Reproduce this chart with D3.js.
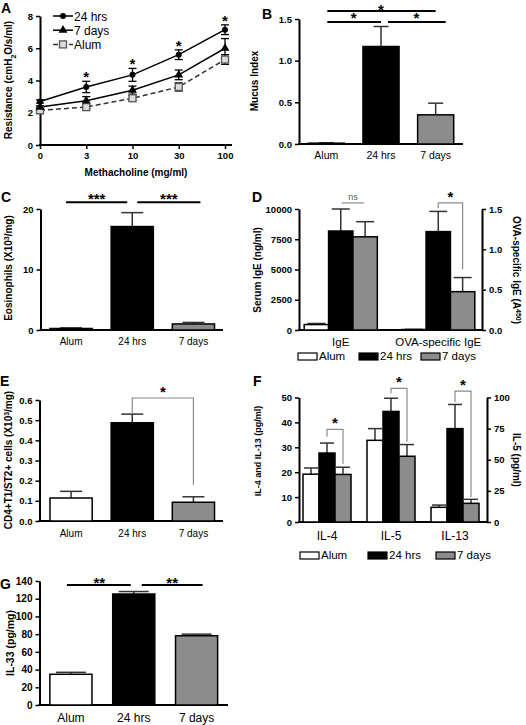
<!DOCTYPE html>
<html><head><meta charset="utf-8">
<script src="https://cdn.jsdelivr.net/npm/d3@7"></script>
<style>
body{margin:0;background:#fff;}
svg{font-family:Arial,"Liberation Sans",sans-serif;}
</style></head><body>
<svg id="c" width="526" height="725"></svg>
<script>
// ---------- DATA ----------
const groups = ["Alum", "24 hrs", "7 days"];
const groupFill = ["#ffffff", "#000000", "#8c8c8c"];

// Panel A
const doses = ["0", "3", "10", "30", "100"];
const res24h = [2.7, 3.6, 4.35, 5.6, 7.15];
const res24hErr = [0.1, 0.35, 0.4, 0.3, 0.3];
const res7d = [2.35, 2.75, 3.4, 4.35, 6.0];
const res7dErr = [0.08, 0.25, 0.25, 0.3, 0.6];
const resAlum = [2.15, 2.35, 2.9, 3.6, 5.3];
const resAlumErr = [0.08, 0.1, 0.15, 0.25, 0.3];
const resStars = ["", "*", "*", "*", "*"];
const resTicks = [0, 2, 4, 6, 8];

// Panel B
const mucus = [0.01, 1.17, 0.35];
const mucusErr = [0.004, 0.24, 0.14];
const mucusTicks = [0, 0.5, 1.0, 1.5];

// Panel C
const eos = [0.25, 17.1, 1.0];
const eosErr = [0.1, 2.3, 0.25];
const eosTicks = [0, 10, 20];

// Panel D
const igeCats = ["IgE", "OVA-specific IgE"];
const totalIgE = [450, 8180, 7700];
const totalIgEErr = [90, 1820, 1250];
const ovaIgE = [0.006, 1.22, 0.475];
const ovaIgEErr = [0.002, 0.25, 0.175];
const igeTicks = [0, 2500, 5000, 7500, 10000];
const ovaTicks = [0, 0.5, 1.0, 1.5];

// Panel E
const cd4 = [0.114, 0.487, 0.093];
const cd4Err = [0.033, 0.043, 0.027];
const cd4Ticks = [0, 0.1, 0.2, 0.3, 0.4, 0.5, 0.6];

// Panel F
const cytCats = ["IL-4", "IL-5", "IL-13"];
const il4 = [19.2, 27.7, 19.1];
const il4Err = [2.5, 4.0, 2.9];
const il5 = [65.6, 88.8, 52.8];
const il5Err = [9.4, 10.6, 9.4];
const il13 = [5.9, 37.5, 7.5];
const il13Err = [0.9, 9.7, 1.6];
const cytLeftTicks = [0, 10, 20, 30, 40, 50];
const cytRightTicks = [0, 25, 50, 75, 100];

// Panel G
const il33 = [34.7, 125.3, 78.2];
const il33Err = [2.2, 2.8, 1.8];
const il33Ticks = [0, 20, 40, 60, 80, 100, 120, 140];

// ---------- HELPERS ----------
const svg = d3.select("#c");
const FONT = "Arial, 'Liberation Sans', sans-serif";

function styleAxis(ax, size) {
  ax.attr("font-family", FONT).attr("font-size", size || 9.5).attr("font-weight", "bold");
  ax.select(".domain").attr("stroke-width", 2);
  ax.selectAll(".tick line").attr("stroke-width", 1.5);
  return ax;
}
function yLeft(g, y, x, ticks, fmt, size) {
  const ax = g.append("g").attr("transform", `translate(${x},0)`)
    .call(d3.axisLeft(y).tickValues(ticks).tickFormat(fmt).tickSize(4).tickSizeOuter(0));
  return styleAxis(ax, size);
}
function yRight(g, y, x, ticks, fmt, size) {
  const ax = g.append("g").attr("transform", `translate(${x},0)`)
    .call(d3.axisRight(y).tickValues(ticks).tickFormat(fmt).tickSize(4).tickSizeOuter(0));
  return styleAxis(ax, size);
}
function hline(g, x0, x1, y, w, col) {
  g.append("line").attr("x1", x0).attr("x2", x1).attr("y1", y).attr("y2", y)
    .attr("stroke", col || "#000").attr("stroke-width", w || 2);
}
function label(g, txt, x, y, size, opts) {
  opts = opts || {};
  return g.append("text").attr("x", x).attr("y", y).text(txt)
    .attr("font-family", FONT).attr("font-size", size)
    .attr("font-weight", opts.bold ? "bold" : "normal")
    .attr("text-anchor", opts.anchor || "middle").attr("fill", opts.fill || "#000");
}
function panelLetter(txt, x, y) { label(svg, txt, x, y, 14, {bold: true, anchor: "start"}); }
function rotTitle(g, parts, x, y, rot, size) {
  const t = g.append("text").attr("transform", `translate(${x},${y}) rotate(${rot})`)
    .attr("text-anchor", "middle").attr("font-family", FONT).attr("font-size", size)
    .attr("font-weight", "bold");
  parts.forEach(p => {
    const s = t.append("tspan").text(p.t);
    if (p.sup) s.attr("baseline-shift", "super").attr("font-size", size * 0.7);
    if (p.sub) s.attr("baseline-shift", "sub").attr("font-size", size * 0.7);
  });
  return t;
}
function drawBars(g, xs, widthFn, y, vals, errs, fills, capW) {
  vals.forEach((v, i) => {
    const cx = xs(i), w = widthFn;
    const top = y(v + errs[i]);
    g.append("line").attr("x1", cx).attr("x2", cx).attr("y1", y(v)).attr("y2", top)
      .attr("stroke", "#333").attr("stroke-width", 1.5);
    g.append("line").attr("x1", cx - capW / 2).attr("x2", cx + capW / 2).attr("y1", top).attr("y2", top)
      .attr("stroke", "#333").attr("stroke-width", 1.5);
    g.append("rect").attr("x", cx - w / 2).attr("width", w)
      .attr("y", y(v)).attr("height", Math.max(0.5, y(0) - y(v)))
      .attr("fill", fills[i]).attr("stroke", "#000").attr("stroke-width", 1.5);
  });
}
function star(g, txt, x, yBase) {
  label(g, txt, x, yBase, 15, {bold: true});
}
function bracket(g, xl, yl, xr, yr, top, txt) {
  g.append("path").attr("d", `M${xl},${yl}V${top}H${xr}V${yr}`)
    .attr("fill", "none").attr("stroke", "#8a8a8a").attr("stroke-width", 1.2);
  star(g, txt, (xl + xr) / 2, top - 1);
}
function legend(g, x0s, y, size) {
  groups.forEach((gname, i) => {
    g.append("rect").attr("x", x0s[i]).attr("y", y - 7).attr("width", 19).attr("height", 7)
      .attr("fill", groupFill[i]).attr("stroke", "#000").attr("stroke-width", 1.2);
    label(g, gname, x0s[i] + 21, y, size, {anchor: "start"});
  });
}

// ---------- PANEL A ----------
{
  const g = svg.append("g");
  const x = d3.scalePoint().domain(doses).range([40, 225]);
  const y = d3.scaleLinear().domain([0, 8]).range([145, 16]);
  yLeft(g, y, 40, resTicks, d3.format("d"));
  const ax = g.append("g").attr("transform", "translate(0,145)")
    .call(d3.axisBottom(x).tickSize(4).tickSizeOuter(0));
  styleAxis(ax);
  ax.select(".domain").remove();
  hline(g, 39, 232, 145, 2);

  const series = [
    {v: resAlum, e: resAlumErr, dash: "5,3", col: "#333", sym: "sq"},
    {v: res7d, e: res7dErr, dash: null, col: "#000", sym: "tri"},
    {v: res24h, e: res24hErr, dash: null, col: "#000", sym: "circ"}
  ];
  const line = d3.line().x((d, i) => x(doses[i])).y(d => y(d));
  series.forEach(s => {
    g.append("path").attr("d", line(s.v)).attr("fill", "none")
      .attr("stroke", s.col).attr("stroke-width", 1.5).attr("stroke-dasharray", s.dash);
    s.v.forEach((v, i) => {
      const cx = x(doses[i]);
      const y0 = y(v - s.e[i]), y1 = y(v + s.e[i]);
      g.append("line").attr("x1", cx).attr("x2", cx).attr("y1", y0).attr("y2", y1).attr("stroke", "#000").attr("stroke-width", 1.3);
      [y0, y1].forEach(yy => g.append("line").attr("x1", cx - 4).attr("x2", cx + 4).attr("y1", yy).attr("y2", yy).attr("stroke", "#000").attr("stroke-width", 1.3));
    });
  });
  function marker(sel, type, cx, cy) {
    if (type === "circ") sel.append("circle").attr("cx", cx).attr("cy", cy).attr("r", 3).attr("fill", "#000");
    else if (type === "tri") sel.append("path").attr("d", d3.symbol(d3.symbolTriangle, 34)()).attr("transform", `translate(${cx},${cy})`).attr("fill", "#000");
    else sel.append("rect").attr("x", cx - 3.5).attr("y", cy - 3.5).attr("width", 7).attr("height", 7).attr("fill", "#dcdcdc").attr("stroke", "#555").attr("stroke-width", 1.3);
  }
  series.forEach(s => s.v.forEach((v, i) => marker(g, s.sym, x(doses[i]), y(v))));
  resStars.forEach((st, i) => { if (st) star(g, st, x(doses[i]), y(res24h[i] + res24hErr[i]) + 1); });

  // legend
  const leg = [["24 hrs", "circ", null], ["7 days", "tri", null], ["Alum", "sq", "5,3"]];
  leg.forEach((l, i) => {
    const ly = 16 + i * 14.2;
    g.append("line").attr("x1", 53).attr("x2", 73).attr("y1", ly).attr("y2", ly)
      .attr("stroke", i === 2 ? "#333" : "#000").attr("stroke-width", 1.5).attr("stroke-dasharray", l[2]);
    marker(g, l[1], 63, ly);
    label(g, l[0], 74, ly + 4.5, 12, {anchor: "start"});
  });
  rotTitle(g, [{t: "Resistance (cmH"}, {t: "2", sub: true}, {t: "O/s/ml)"}], 12, 80, -90, 10);
  label(g, "Methacholine (mg/ml)", 136, 176, 10, {bold: true});
  panelLetter("A", 1, 13);
}

// ---------- PANEL B ----------
{
  const g = svg.append("g");
  const x = d3.scaleBand().domain(d3.range(3)).range([299, 463]).paddingInner(0.34).paddingOuter(0.17);
  const y = d3.scaleLinear().domain([0, 1.5]).range([144, 19]);
  yLeft(g, y, 299, mucusTicks, d3.format(".1f"));
  hline(g, 298, 463, 144, 2);
  const cx = i => x(i) + x.bandwidth() / 2;
  drawBars(g, cx, x.bandwidth(), y, mucus, mucusErr, groupFill, 15);
  groups.forEach((gn, i) => label(g, gn, cx(i), 159, 10.5));
  // significance
  hline(g, cx(0) + 1, cx(2), y(1.596), 2);
  star(g, "*", (cx(0) + cx(2)) / 2, y(1.596) + 3.5);
  hline(g, cx(0) + 1, cx(1), y(1.464), 2);
  star(g, "*", (cx(0) + cx(1)) / 2, y(1.464) + 1);
  hline(g, cx(1) + 7, cx(2) + 10, y(1.464), 2);
  star(g, "*", (cx(1) + cx(2)) / 2 + 8, y(1.464) + 1);
  rotTitle(g, [{t: "Mucus Index"}], 258, 81, -90, 10);
  panelLetter("B", 262, 19);
}

// ---------- PANEL C ----------
{
  const g = svg.append("g");
  const x = d3.scaleBand().domain(d3.range(3)).range([40.5, 224]).paddingInner(0.31).paddingOuter(0.155);
  const y = d3.scaleLinear().domain([0, 20]).range([330, 209]);
  yLeft(g, y, 40.5, eosTicks, d3.format("d"));
  hline(g, 39.5, 223, 330, 2);
  const cx = i => x(i) + x.bandwidth() / 2;
  drawBars(g, cx, x.bandwidth(), y, eos, eosErr, groupFill, 22);
  groups.forEach((gn, i) => label(g, gn, cx(i), 345, 10));
  const ly = y(21.1);
  hline(g, cx(0) - 5, cx(1) - 5, ly, 2);
  star(g, "***", (cx(0) + cx(1)) / 2 - 5, ly + 2);
  hline(g, cx(1) + 5, cx(2) + 7, ly, 2);
  star(g, "***", (cx(1) + cx(2)) / 2 + 6, ly + 2);
  rotTitle(g, [{t: "Eosinophils (X10"}, {t: "3", sup: true}, {t: "/mg)"}], 12, 268, -90, 10);
  panelLetter("C", 1, 202);
}

// ---------- PANEL D ----------
{
  const g = svg.append("g");
  const xg = d3.scaleBand().domain(igeCats).range([292, 487]).paddingInner(0.25).paddingOuter(0.125);
  const xi = d3.scaleBand().domain(d3.range(3)).range([0, xg.bandwidth()]);
  const yL = d3.scaleLinear().domain([0, 10000]).range([330, 209]);
  const yR = d3.scaleLinear().domain([0, 1.5]).range([330, 209]);
  yLeft(g, yL, 299, igeTicks, d3.format("d"));
  yRight(g, yR, 482, ovaTicks, d3.format(".1f"));
  hline(g, 298, 483, 330, 2);
  const bw = xi.bandwidth();
  const cxI = i => xg(igeCats[0]) + xi(i) + bw / 2;
  const cxO = i => xg(igeCats[1]) + xi(i) + bw / 2;
  drawBars(g, cxI, bw, yL, totalIgE, totalIgEErr, groupFill, 18);
  drawBars(g, cxO, bw, yR, ovaIgE, ovaIgEErr, groupFill, 18);
  igeCats.forEach(c => label(g, c, xg(c) + xg.bandwidth() / 2, 346, 11.5));
  legend(g, [298, 359, 421], 360, 11.5);
  // ns
  hline(g, cxI(1) + 1, cxI(2) - 1, yL(10500), 1.2, "#8a8a8a");
  label(g, "ns", (cxI(1) + cxI(2)) / 2, yL(10500) - 3, 9, {fill: "#555"});
  bracket(g, cxO(1), yR(1.51), cxO(2), yR(0.75), yR(1.575), "*");
  rotTitle(g, [{t: "Serum IgE (ng/ml)"}], 261, 270, -90, 10);
  rotTitle(g, [{t: "OVA-specific IgE (A"}, {t: "450", sup: true}, {t: ")"}], 513, 270, 90, 10);
  panelLetter("D", 252, 202);
}

// ---------- PANEL E ----------
{
  const g = svg.append("g");
  const x = d3.scaleBand().domain(d3.range(3)).range([40.5, 224]).paddingInner(0.31).paddingOuter(0.155);
  const y = d3.scaleLinear().domain([0, 0.6]).range([521, 400]);
  yLeft(g, y, 39.5, cd4Ticks, d3.format(".1f"));
  hline(g, 38.5, 223, 521, 2);
  const cx = i => x(i) + x.bandwidth() / 2;
  drawBars(g, cx, x.bandwidth(), y, cd4, cd4Err, groupFill, 22);
  groups.forEach((gn, i) => label(g, gn, cx(i), 537, 10));
  bracket(g, cx(1), y(0.535), cx(2), y(0.18), y(0.61), "*");
  rotTitle(g, [{t: "CD4+T1/ST2+ cells (X10"}, {t: "3", sup: true}, {t: "/mg)"}], 12, 460, -90, 10);
  panelLetter("E", 0, 386);
}

// ---------- PANEL F ----------
{
  const g = svg.append("g");
  const xg = d3.scaleBand().domain(cytCats).range([295, 487]).paddingInner(0.25).paddingOuter(0.125);
  const xi = d3.scaleBand().domain(d3.range(3)).range([0, xg.bandwidth()]);
  const yL = d3.scaleLinear().domain([0, 50]).range([522, 397.5]);
  const yR = d3.scaleLinear().domain([0, 100]).range([522, 397.5]);
  yLeft(g, yL, 299, cytLeftTicks, d3.format("d"));
  yRight(g, yR, 487, cytRightTicks, d3.format("d"));
  hline(g, 298, 488, 522, 2);
  const bw = xi.bandwidth();
  const cxf = c => i => xg(c) + xi(i) + bw / 2;
  drawBars(g, cxf("IL-4"), bw, yL, il4, il4Err, groupFill, 14);
  drawBars(g, cxf("IL-5"), bw, yR, il5, il5Err, groupFill, 14);
  drawBars(g, cxf("IL-13"), bw, yL, il13, il13Err, groupFill, 14);
  cytCats.forEach(c => label(g, c, xg(c) + xg.bandwidth() / 2, 540, 12));
  legend(g, [300, 368, 436], 559, 11.5);
  const a = cxf("IL-4"), b = cxf("IL-5"), c = cxf("IL-13");
  bracket(g, a(1), yL(34.2), a(2), yL(23.4), yL(37.2), "*");
  bracket(g, b(1), yR(103.4), b(2), yR(64.4), yR(107.4), "*");
  bracket(g, c(1), yL(48.2), c(2), yL(10), yL(52.6), "*");
  rotTitle(g, [{t: "IL-4 and IL-13 (pg/ml)"}], 261, 451, -90, 9);
  rotTitle(g, [{t: "IL-5 (pg/ml)"}], 513, 460, 90, 10);
  panelLetter("F", 253, 386);
}

// ---------- PANEL G ----------
{
  const g = svg.append("g");
  const x = d3.scaleBand().domain(d3.range(3)).range([39.5, 228]).paddingInner(0.33).paddingOuter(0.165);
  const y = d3.scaleLinear().domain([0, 140]).range([705, 581]);
  yLeft(g, y, 39.5, il33Ticks, d3.format("d"), 10);
  hline(g, 38.5, 228, 705, 2);
  const cx = i => x(i) + x.bandwidth() / 2;
  drawBars(g, cx, x.bandwidth(), y, il33, il33Err, groupFill, 30);
  groups.forEach((gn, i) => label(g, gn, cx(i), 722, 12));
  const ly = y(135.5);
  hline(g, cx(0) - 4, cx(1) - 3, ly, 2);
  star(g, "**", (cx(0) + cx(1)) / 2 - 3, ly + 3);
  hline(g, cx(1) + 8, cx(2) + 6, ly, 2);
  star(g, "**", (cx(1) + cx(2)) / 2 + 7, ly + 3);
  rotTitle(g, [{t: "IL-33 (pg/mg)"}], 14, 643, -90, 10.5);
  panelLetter("G", 0, 589);
}
</script>
</body></html>
